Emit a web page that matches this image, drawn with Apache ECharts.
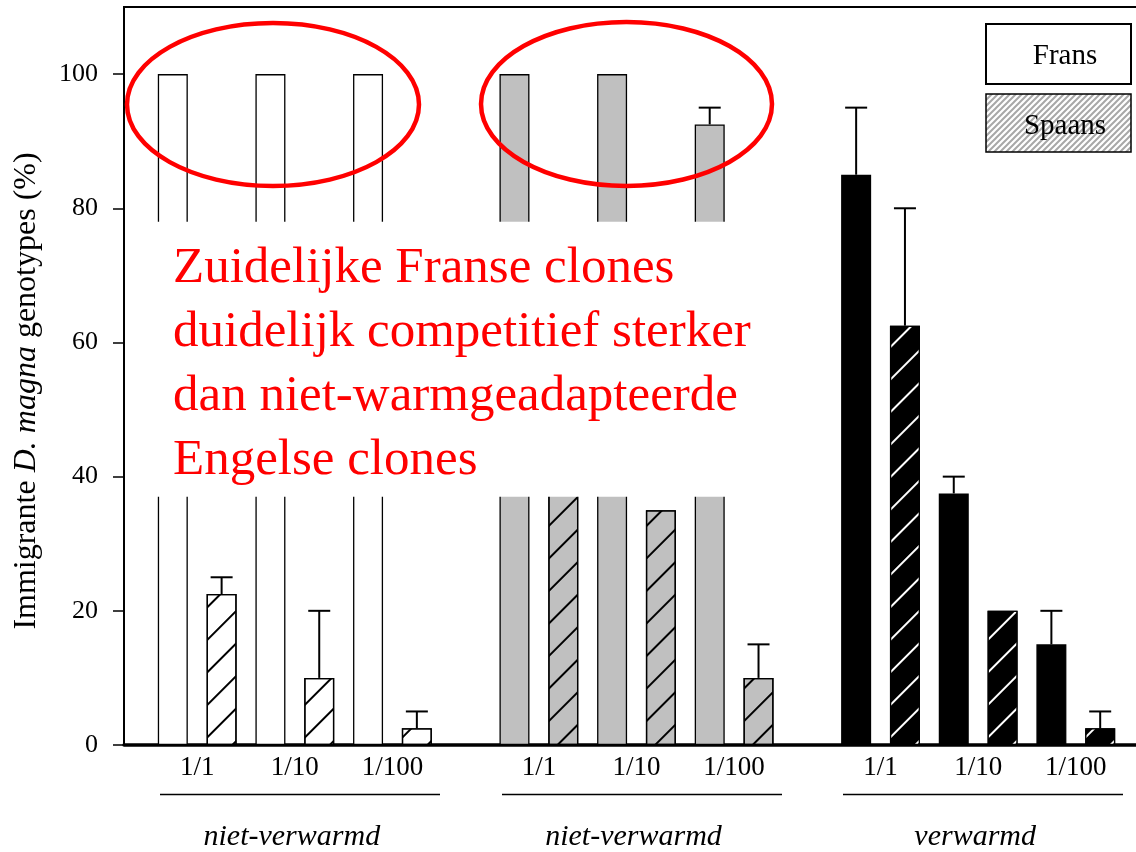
<!DOCTYPE html>
<html>
<head>
<meta charset="utf-8">
<script src="https://cdn.jsdelivr.net/npm/echarts@6/dist/echarts.min.js"></script>
<style>
  html, body { margin: 0; padding: 0; background: #fff; }
  #chart { width: 1136px; height: 852px; }
</style>
</head>
<body>
<div id="chart"></div>
<script>
// data
const dilutions = ['1/1', '1/10', '1/100']
const treatments = ['niet-verwarmd', 'niet-verwarmd', 'verwarmd']
const fransMean = [100, 100, 100, 100, 100, 92.5, 85, 37.5, 15]
const fransTop = [null, null, null, null, null, 95, 95, 40, 20]
const spaansMean = [22.5, 10, 2.5, 55, 35, 10, 62.5, 20, 2.5]
const spaansTop = [25, 20, 5, null, null, 15, 80, null, 5]
const yTicks = [0, 20, 40, 60, 80, 100]
const legendNames = ['Frans', 'Spaans']
const note = ['Zuidelijke Franse clones', 'duidelijk competitief sterker', 'dan niet-warmgeadapteerde', 'Engelse clones']

const FONT = '"Liberation Serif", "DejaVu Serif", serif'
const fills = ['#ffffff', '#c0c0c0', '#000000']
const hatch = ['#000000', '#000000', '#ffffff']

// half-slot category positions: bars on even indices, dilution labels between the pair
const N_CAT = 43
const barCat = (g, d, s) => 2 * (1 + g * 7 + d * 2 + s)
const categories = []
for (let i = 0; i < N_CAT; i++) categories.push('')
treatments.forEach((t, g) => dilutions.forEach((lab, d) => { categories[barCat(g, d, 0) + 1] = lab }))

function emptyData() {
  const arr = []
  for (let i = 0; i < N_CAT; i++) arr.push('-')
  return arr
}

const fransData = emptyData()
const spaansData = emptyData()
const errData = []
treatments.forEach((t, g) => {
  dilutions.forEach((lab, d) => {
    const k = g * 3 + d
    fransData[barCat(g, d, 0)] = {
      value: fransMean[k],
      itemStyle: { color: fills[g], borderColor: '#000', borderWidth: 1.3 }
    }
    spaansData[barCat(g, d, 1)] = {
      value: spaansMean[k],
      itemStyle: {
        color: fills[g], borderColor: '#000', borderWidth: 1.3,
        decal: {
          symbol: 'rect', symbolSize: 1, color: hatch[g],
          dashArrayX: [10, 0], dashArrayY: [1.4, 20.6],
          rotation: -Math.PI / 4
        }
      }
    }
    if (fransTop[k] != null) errData.push([barCat(g, d, 0), fransMean[k], fransTop[k]])
    if (spaansTop[k] != null) errData.push([barCat(g, d, 1), spaansMean[k], spaansTop[k]])
  })
})

const chart = echarts.init(document.getElementById('chart'))

chart.setOption({
  animation: false,
  backgroundColor: '#fff',
  grid: {
    left: 124, width: 1025, top: 7, bottom: 107,
    outerBoundsMode: 'none',
    show: true, borderColor: '#000', borderWidth: 2, backgroundColor: 'transparent'
  },
  xAxis: {
    type: 'category',
    data: categories,
    boundaryGap: false,
    axisLine: { lineStyle: { color: '#000', width: 3.5 } },
    axisTick: { show: false },
    axisLabel: { interval: 0, color: '#000', fontFamily: FONT, fontSize: 27, margin: 9 },
    splitLine: { show: false }
  },
  yAxis: {
    type: 'value',
    min: 0,
    max: 110,
    name: 'Immigrante {i|D. magna} genotypes (%)',
    nameLocation: 'middle',
    nameGap: 81,
    nameTextStyle: {
      color: '#000', fontFamily: FONT, fontSize: 32, padding: [0, 30, 0, 0],
      rich: { i: { fontStyle: 'italic', fontFamily: FONT, fontSize: 32, color: '#000' } }
    },
    axisLine: { show: true, lineStyle: { color: '#000', width: 2 } },
    axisTick: { show: true, length: 11, lineStyle: { color: '#000', width: 1.5 }, customValues: yTicks },
    axisLabel: { color: '#000', fontFamily: FONT, fontSize: 26, margin: 26, customValues: yTicks },
    splitLine: { show: false }
  },
  series: [
    { name: legendNames[0], type: 'bar', data: fransData, barWidth: 30, barGap: '-100%', z: 2 },
    { name: legendNames[1], type: 'bar', data: spaansData, barWidth: 30, barGap: '-100%', z: 2 },
    {
      name: 'se',
      type: 'custom',
      data: errData,
      z: 3,
      renderItem(params, api) {
        const base = api.coord([api.value(0), api.value(1)])
        const top = api.coord([api.value(0), api.value(2)])
        const half = 11
        return {
          type: 'group',
          children: [
            { type: 'line', shape: { x1: base[0], y1: base[1], x2: top[0], y2: top[1] }, style: { stroke: '#000', lineWidth: 2 } },
            { type: 'line', shape: { x1: top[0] - half, y1: top[1], x2: top[0] + half, y2: top[1] }, style: { stroke: '#000', lineWidth: 2 } }
          ]
        }
      }
    }
  ]
})

// light striped fill for the Spaans legend box
function stripeFill() {
  const c = document.createElement('canvas')
  c.width = 6
  c.height = 6
  const ctx = c.getContext('2d')
  ctx.fillStyle = '#fff'
  ctx.fillRect(0, 0, 6, 6)
  ctx.strokeStyle = '#a8a8a8'
  ctx.lineWidth = 2
  ctx.beginPath()
  ctx.moveTo(-1, 7); ctx.lineTo(7, -1)
  ctx.moveTo(-4, 4); ctx.lineTo(4, -4)
  ctx.moveTo(2, 10); ctx.lineTo(10, 2)
  ctx.stroke()
  return { image: c, repeat: 'repeat' }
}

const xPix = i => chart.convertToPixel({ xAxisIndex: 0 }, i)
const yPix = v => chart.convertToPixel({ yAxisIndex: 0 }, v)

const graphic = []
treatments.forEach((t, g) => {
  const mid = (xPix(barCat(g, 0, 0)) + xPix(barCat(g, 2, 1))) / 2
  graphic.push({
    type: 'line', z: 20,
    shape: { x1: Math.round(mid + 5 - 140), y1: 794.5, x2: Math.round(mid + 5 + 140), y2: 794.5 },
    style: { stroke: '#000', lineWidth: 1.3 }
  })
  graphic.push({
    type: 'text', z: 20, x: mid - 3, y: 837,
    style: { text: t, fill: '#000', font: 'italic 30px ' + FONT, align: 'center', verticalAlign: 'middle' }
  })
})

// annotation overlay
graphic.push({
  type: 'rect', z: 50,
  shape: { x: 126, y: yPix(78), width: 664, height: yPix(37) - yPix(78) },
  style: { fill: '#fff' }
})
graphic.push({
  type: 'text', z: 51, x: 173, y: 236.5,
  style: { text: note.join('\n'), fill: '#ff0000', font: '51px ' + FONT, lineHeight: 64, verticalAlign: 'top' }
})
graphic.push({
  type: 'ellipse', z: 52,
  shape: { cx: 273, cy: 104.5, rx: 146, ry: 81.5 },
  style: { fill: null, stroke: '#ff0000', lineWidth: 4.5 }
})
graphic.push({
  type: 'ellipse', z: 52,
  shape: { cx: 626.5, cy: 104, rx: 145.5, ry: 82 },
  style: { fill: null, stroke: '#ff0000', lineWidth: 4.5 }
})

// legend boxes
graphic.push({
  type: 'rect', z: 30,
  shape: { x: 986, y: 24, width: 145, height: 60 },
  style: { fill: '#fff', stroke: '#000', lineWidth: 2 }
})
graphic.push({
  type: 'text', z: 31, x: 1065, y: 56,
  style: { text: legendNames[0], fill: '#000', font: '29px ' + FONT, align: 'center', verticalAlign: 'middle' }
})
graphic.push({
  type: 'rect', z: 30,
  shape: { x: 986, y: 94, width: 145, height: 58 },
  style: { fill: stripeFill(), stroke: '#000', lineWidth: 1.5 }
})
graphic.push({
  type: 'text', z: 31, x: 1065, y: 126,
  style: { text: legendNames[1], fill: '#000', font: '29px ' + FONT, align: 'center', verticalAlign: 'middle' }
})

chart.setOption({ graphic: graphic })
</script>
</body>
</html>
